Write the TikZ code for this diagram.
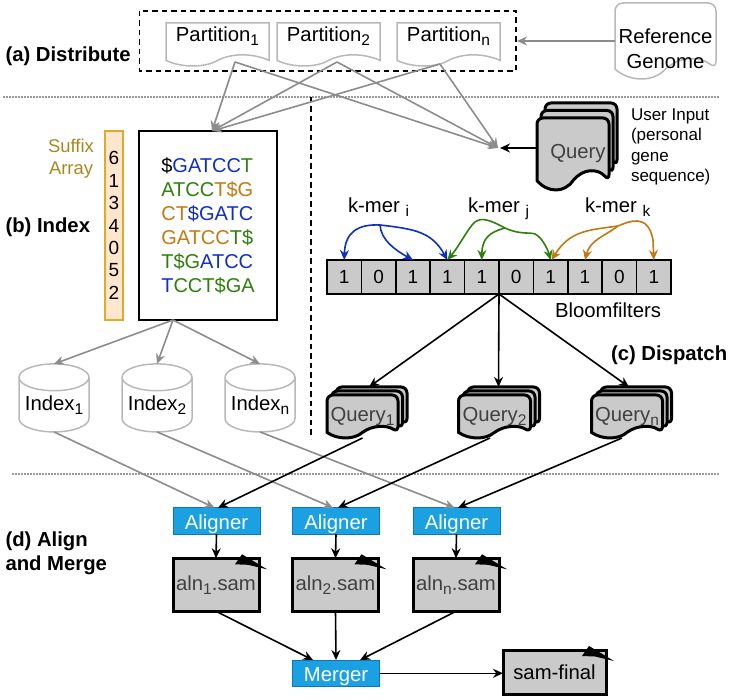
\documentclass[tikz,border=0pt]{standalone}
\usepackage{fontspec}
\setmainfont{Liberation Sans}
\usetikzlibrary{arrows.meta, positioning, shapes.geometric, shadows}
\definecolor{seqBlue}{HTML}{0F2FC4}
\definecolor{seqGreen}{HTML}{2F7F0C}
\definecolor{seqOrange}{HTML}{C07A12}
\definecolor{suffixText}{HTML}{A8861E}
\definecolor{suffixFill}{HTML}{FFE6CC}
\definecolor{suffixEdge}{HTML}{E3A92B}
\definecolor{fileGray}{HTML}{CACACA}
\definecolor{fileText}{HTML}{404040}
\definecolor{stepBlue}{HTML}{1BA1E2}
\definecolor{stepEdge}{HTML}{0B78B8}
\definecolor{linkGray}{HTML}{8C8C8C}

\newcommand{\idx}[1]{\raisebox{-4pt}{\fontsize{15.5}{15.5}\selectfont #1}}
\newcommand{\sB}[1]{\textcolor{seqBlue}{#1}}
\newcommand{\sG}[1]{\textcolor{seqGreen}{#1}}
\newcommand{\sO}[1]{\textcolor{seqOrange}{#1}}

% sheet with a wavy lower edge
\newdimen\sheetL \newdimen\sheetR \newdimen\sheetB \newdimen\sheetT \newdimen\sheetW \newdimen\sheetD
\makeatletter
\pgfdeclareshape{wavesheet}{
  \inheritsavedanchors[from=rectangle]
  \inheritanchorborder[from=rectangle]
  \inheritanchor[from=rectangle]{center}
  \inheritanchor[from=rectangle]{north}
  \inheritanchor[from=rectangle]{south}
  \inheritanchor[from=rectangle]{east}
  \inheritanchor[from=rectangle]{west}
  \backgroundpath{
    \southwest \sheetL=\pgf@x \sheetB=\pgf@y
    \northeast \sheetR=\pgf@x \sheetT=\pgf@y
    \sheetW=\sheetR \advance\sheetW by -\sheetL
    \sheetD=\sheetT \advance\sheetD by -\sheetB
    \sheetD=0.13\sheetD
    \pgfpathmoveto{\pgfpoint{\sheetL}{\sheetB+\sheetD}}
    \pgfpathlineto{\pgfpoint{\sheetL}{\sheetT}}
    \pgfpathlineto{\pgfpoint{\sheetR}{\sheetT}}
    \pgfpathlineto{\pgfpoint{\sheetR}{\sheetB+\sheetD}}
    \pgfsetcornersarced{\pgfpointorigin}
    \pgfpathcurveto
      {\pgfpoint{\sheetR-0.16\sheetW}{\sheetB+2.33\sheetD}}
      {\pgfpoint{\sheetR-0.36\sheetW}{\sheetB+2.33\sheetD}}
      {\pgfpoint{\sheetR-0.5\sheetW}{\sheetB+\sheetD}}
    \pgfpathcurveto
      {\pgfpoint{\sheetR-0.62\sheetW}{\sheetB-0.33\sheetD}}
      {\pgfpoint{\sheetR-0.85\sheetW}{\sheetB-0.33\sheetD}}
      {\pgfpoint{\sheetL}{\sheetB+\sheetD}}
    \pgfpathclose
  }
}
\makeatother

\begin{document}
\begin{tikzpicture}[
    x=1pt, y=-1pt,
    every node/.style={inner sep=0pt, outer sep=0pt},
    body/.style={font=\fontsize{20.3}{24.6}\selectfont},
    stage/.style={font=\fontsize{20.3}{24}\selectfont\bfseries, align=left},
    plainsheet/.style={shape=wavesheet, draw=black!28, line width=1.5pt, body},
    partsheet/.style={plainsheet, minimum width=103pt, minimum height=43pt,
                      text height=18.7pt, text depth=24.3pt},
    querysheet/.style={shape=wavesheet, draw=black, line width=3pt, fill=fileGray,
                       rounded corners=6pt, text=fileText, body,
                       double copy shadow={shadow xshift=#1}},
    cellbox/.style={draw=black, line width=1.6pt, fill=fileGray, minimum width=34.4pt,
                    minimum height=34pt, font=\fontsize{19}{22}\selectfont},
    indexdb/.style={shape=cylinder, shape border rotate=90, shape aspect=0.46, draw=black!28,
                    line width=1.5pt, minimum width=70pt, minimum height=68pt, body},
    stepbox/.style={draw=stepEdge, line width=1pt, fill=stepBlue, text=white, body,
                    minimum width=87pt, minimum height=26.5pt, text height=16.6pt, text depth=0pt},
    samfile/.style={draw=black, line width=3pt, fill=fileGray, text=fileText, body,
                    minimum width=86pt, minimum height=53pt},
    grayedge/.style={draw=linkGray, line width=1.6pt, -{Stealth[length=10pt, width=9pt]}},
    blackedge/.style={draw=black, line width=1.6pt, -{Stealth[length=10pt, width=9pt]}},
    kedge/.style={line width=1.6pt, -{Stealth[length=10pt, width=9pt]}},
    rule/.style={draw=black!40, line width=1.5pt, dash pattern=on 1.5pt off 1.5pt},
    groupline/.style={draw=black, line width=1.6pt, dash pattern=on 5.5pt off 4pt},
  ]
    \useasboundingbox (0,0) rectangle (747,700);

    % stage titles and separators
    \node[stage, anchor=base west] (stagea) at (5.5,61.7) {(a) Distribute};
    \node[stage, anchor=base west] (stageb) at (5.5,232.7) {(b) Index};
    \node[stage, anchor=base west] (stagec) at (611,360.7) {(c) Dispatch};
    \node[stage, anchor=west] (staged) at (5.5,553) {(d) Align\\and Merge};
    \draw[rule] (3,97) -- (720,97);
    \draw[rule] (12,474) -- (720,474);
    \draw[groupline] (139.5,11) rectangle (516,71);
    \draw[groupline] (311,97) -- (311,439);

    % genome partitions
    \node[partsheet] (part1) at (217.5,44.5) {Partition\idx{1}};
    \node[partsheet] (part2) at (328.5,44.5) {Partition\idx{2}};
    \node[partsheet] (partn) at (448.5,44.5) {Partition\idx{n}};
    \node[plainsheet, rounded corners=8pt, minimum width=101pt, minimum height=76pt,
          align=center] (genome) at (665.5,41) {\rule{0pt}{30pt}Reference\\Genome};
    \coordinate (groupedge) at (517,41);
    \draw[grayedge] (genome.west |- groupedge) -- (groupedge);

    % suffix array
    \node[draw=suffixEdge, line width=1.5pt, fill=suffixFill, minimum width=18pt,
          minimum height=189pt, align=center, font=\fontsize{19}{22.4}\selectfont]
          (suffixbox) at (114,225.5) {6\\1\\3\\4\\0\\5\\2};
    \node[text=suffixText, align=center, font=\fontsize{18.4}{22}\selectfont] (suffixlabel)
          at (71,158.5) {Suffix\\Array};
    \node[draw=black, line width=1.6pt, minimum width=138pt, minimum height=189pt, align=left,
          font=\fontsize{20}{24}\selectfont] (indexbox) at (208,225.5)
          {\$\sB{GATCC}\sG{T}\\
           \sG{ATCC}\sO{T\$G}\\
           \sO{CT}\sB{\$GATC}\\
           \sO{GATCC}\sG{T\$}\\
           \sG{T\$G}\sB{ATCC}\\
           \sB{T}\sG{CCT\$GA}};

    % user query
    \node[querysheet={4pt, shadow yshift=7.5pt}, minimum width=72pt, minimum height=72pt]
          (query) at (573,154) {\hspace*{10pt}\raisebox{2pt}{Query}};
    \coordinate (dispatch) at (498,148);
    \node[anchor=north west, align=left, font=\fontsize{17}{20.5}\selectfont] (userinput)
          at (631,108.5) {User Input\\(personal\\gene\\sequence)};
    \draw[blackedge] (query.west |- dispatch) -- ([xshift=2pt]dispatch);

    \draw[grayedge] ([shift={(17.5pt,4pt)}]part1.south) -- ([xshift=4pt]indexbox.north);
    \draw[grayedge] ([shift={(17.5pt,4pt)}]part1.south) -- (dispatch);
    \draw[grayedge] ([shift={(8.5pt,4pt)}]part2.south) -- ([xshift=4pt]indexbox.north);
    \draw[grayedge] ([shift={(8.5pt,4pt)}]part2.south) -- (dispatch);
    \draw[grayedge] ([shift={(-8.5pt,2pt)}]partn.south) -- ([xshift=4pt]indexbox.north);
    \draw[grayedge] ([shift={(-8.5pt,2pt)}]partn.south) -- (dispatch);

    % bloom filter cells
    \node[cellbox] (cell0) at (344.2,277) {1};
    \node[cellbox, right=0pt of cell0] (cell1) {0};
    \node[cellbox, right=0pt of cell1] (cell2) {1};
    \node[cellbox, right=0pt of cell2] (cell3) {1};
    \node[cellbox, right=0pt of cell3] (cell4) {1};
    \node[cellbox, right=0pt of cell4] (cell5) {0};
    \node[cellbox, right=0pt of cell5] (cell6) {1};
    \node[cellbox, right=0pt of cell6] (cell7) {1};
    \node[cellbox, right=0pt of cell7] (cell8) {0};
    \node[cellbox, right=0pt of cell8] (cell9) {1};
    \node[body, anchor=base west] (bloomlabel) at (555,318) {Bloomfilters};

    \node[body, anchor=base west] (kmeri) at (348,212.7) {k-mer \idx{i}};
    \node[body, anchor=base west] (kmerj) at (468,212.7) {k-mer \idx{j}};
    \node[body, anchor=base west] (kmerk) at (585,212.7) {k-mer \idx{k}};

    \coordinate (hubi) at (380,225);
    \coordinate (hubj) at (505,228);
    \coordinate (hubk) at (618,226);
    \draw[kedge, seqBlue] (hubi) .. controls (358,224) and (345,232) .. (cell0.north);
    \draw[kedge, seqBlue] (hubi) .. controls (381,240) and (395,250) .. (cell2.north);
    \draw[kedge, seqBlue] (hubi) .. controls (415,229) and (432,232) .. (cell3.north);
    \draw[kedge, seqGreen] (hubj) .. controls (490,220) and (482,217) .. (475,222)
          .. controls (468,228) and (460,245) .. (cell3.north);
    \draw[kedge, seqGreen] (hubj) .. controls (490,232) and (482,238) .. (cell4.north);
    \draw[kedge, seqGreen] (hubj) .. controls (520,235) and (530,232) .. (535,234)
          .. controls (542,237) and (548,250) .. (cell6.north);
    \draw[kedge, seqOrange] (hubk) .. controls (590,230) and (570,230) .. ([xshift=1pt]cell6.north);
    \draw[kedge, seqOrange] (hubk) .. controls (605,236) and (590,240) .. (cell7.north);
    \draw[kedge, seqOrange] (hubk) .. controls (628,222) and (648,212) .. (653,240) -- (cell9.north);

    % dispatched queries
    \node[querysheet={4.5pt, shadow yshift=4pt}, minimum width=71pt, minimum height=43pt]
          (query1) at (362.5,416.5) {\raisebox{4pt}{Query\idx{1}}};
    \node[querysheet={4.5pt, shadow yshift=4pt}, minimum width=72pt, minimum height=43pt]
          (query2) at (494.5,416.5) {\raisebox{4pt}{Query\idx{2}}};
    \node[querysheet={4.5pt, shadow yshift=4pt}, minimum width=71pt, minimum height=43pt]
          (queryn) at (627,416.5) {\raisebox{4pt}{Query\idx{n}}};
    \coordinate (cellsplit) at (cell4.south east);
    \draw[blackedge] (cellsplit) -- (369,387);
    \draw[blackedge] (cellsplit) -- (498.5,387);
    \draw[blackedge] (cellsplit) -- (629,387);

    % partition indexes
    \node[indexdb] (index1) at (54,405) {Index\idx{1}};
    \node[indexdb] (index2) at (157,405) {Index\idx{2}};
    \node[indexdb] (indexn) at (260,405) {Index\idx{n}};
    \draw[grayedge] ([xshift=-35pt]indexbox.south) -- (index1.north);
    \draw[grayedge] ([xshift=-35pt]indexbox.south) -- (index2.north);
    \draw[grayedge] ([xshift=-35pt]indexbox.south) -- (indexn.north);

    % aligners and merger
    \node[stepbox] (aligner1) at (216.5,521) {Aligner};
    \node[stepbox] (aligner2) at (336,521) {Aligner};
    \node[stepbox] (alignern) at (456.5,521) {Aligner};
    \node[samfile] (aln1) at (216,584.8) {aln\idx{1}.sam};
    \node[samfile] (aln2) at (335.5,584.8) {aln\idx{2}.sam};
    \node[samfile] (alnn) at (456,584.8) {aln\idx{n}.sam};
    \node[stepbox] (merger) at (336,673.3) {Merger};
    \node[samfile, minimum width=103pt, minimum height=44pt, text=black] (samfinal)
          at (554.5,672) {sam-final};

    \draw[grayedge] (index1.south) -- ([xshift=-2pt]aligner1.north);
    \draw[grayedge] (index2.south) -- ([xshift=-3pt]aligner2.north);
    \draw[grayedge] (indexn.south) -- ([xshift=-2pt]alignern.north);
    \draw[blackedge] (query1.south) -- ([xshift=1.5pt]aligner1.north);
    \draw[blackedge] ([xshift=-4.5pt]query2.south) -- ([xshift=2pt]aligner2.north);
    \draw[blackedge] ([xshift=-5pt]queryn.south) -- ([xshift=1.5pt]alignern.north);
    \draw[blackedge] (aligner1.south) -- (aln1.north);
    \draw[blackedge] (aligner2.south) -- (aln2.north);
    \draw[blackedge] (alignern.south) -- (alnn.north);
    \draw[blackedge] (aln1.south) -- ([xshift=-23pt]merger.north);
    \draw[blackedge] (aln2.south) -- (merger.north);
    \draw[blackedge] (alnn.south) -- ([xshift=24pt]merger.north);
    \draw[blackedge] (merger.east) -- (samfinal.west |- merger.east);

    % corner marks on the sam files
    \foreach \samnode in {aln1, aln2, alnn, samfinal}
      \fill[black] ([shift={(-17pt,4pt)}]\samnode.north east) -- ([shift={(8pt,-11pt)}]\samnode.north east)
        -- ([shift={(-11pt,-6.5pt)}]\samnode.north east) -- ([shift={(-24pt,-6pt)}]\samnode.north east) -- cycle;
  \end{tikzpicture}
\end{document}
